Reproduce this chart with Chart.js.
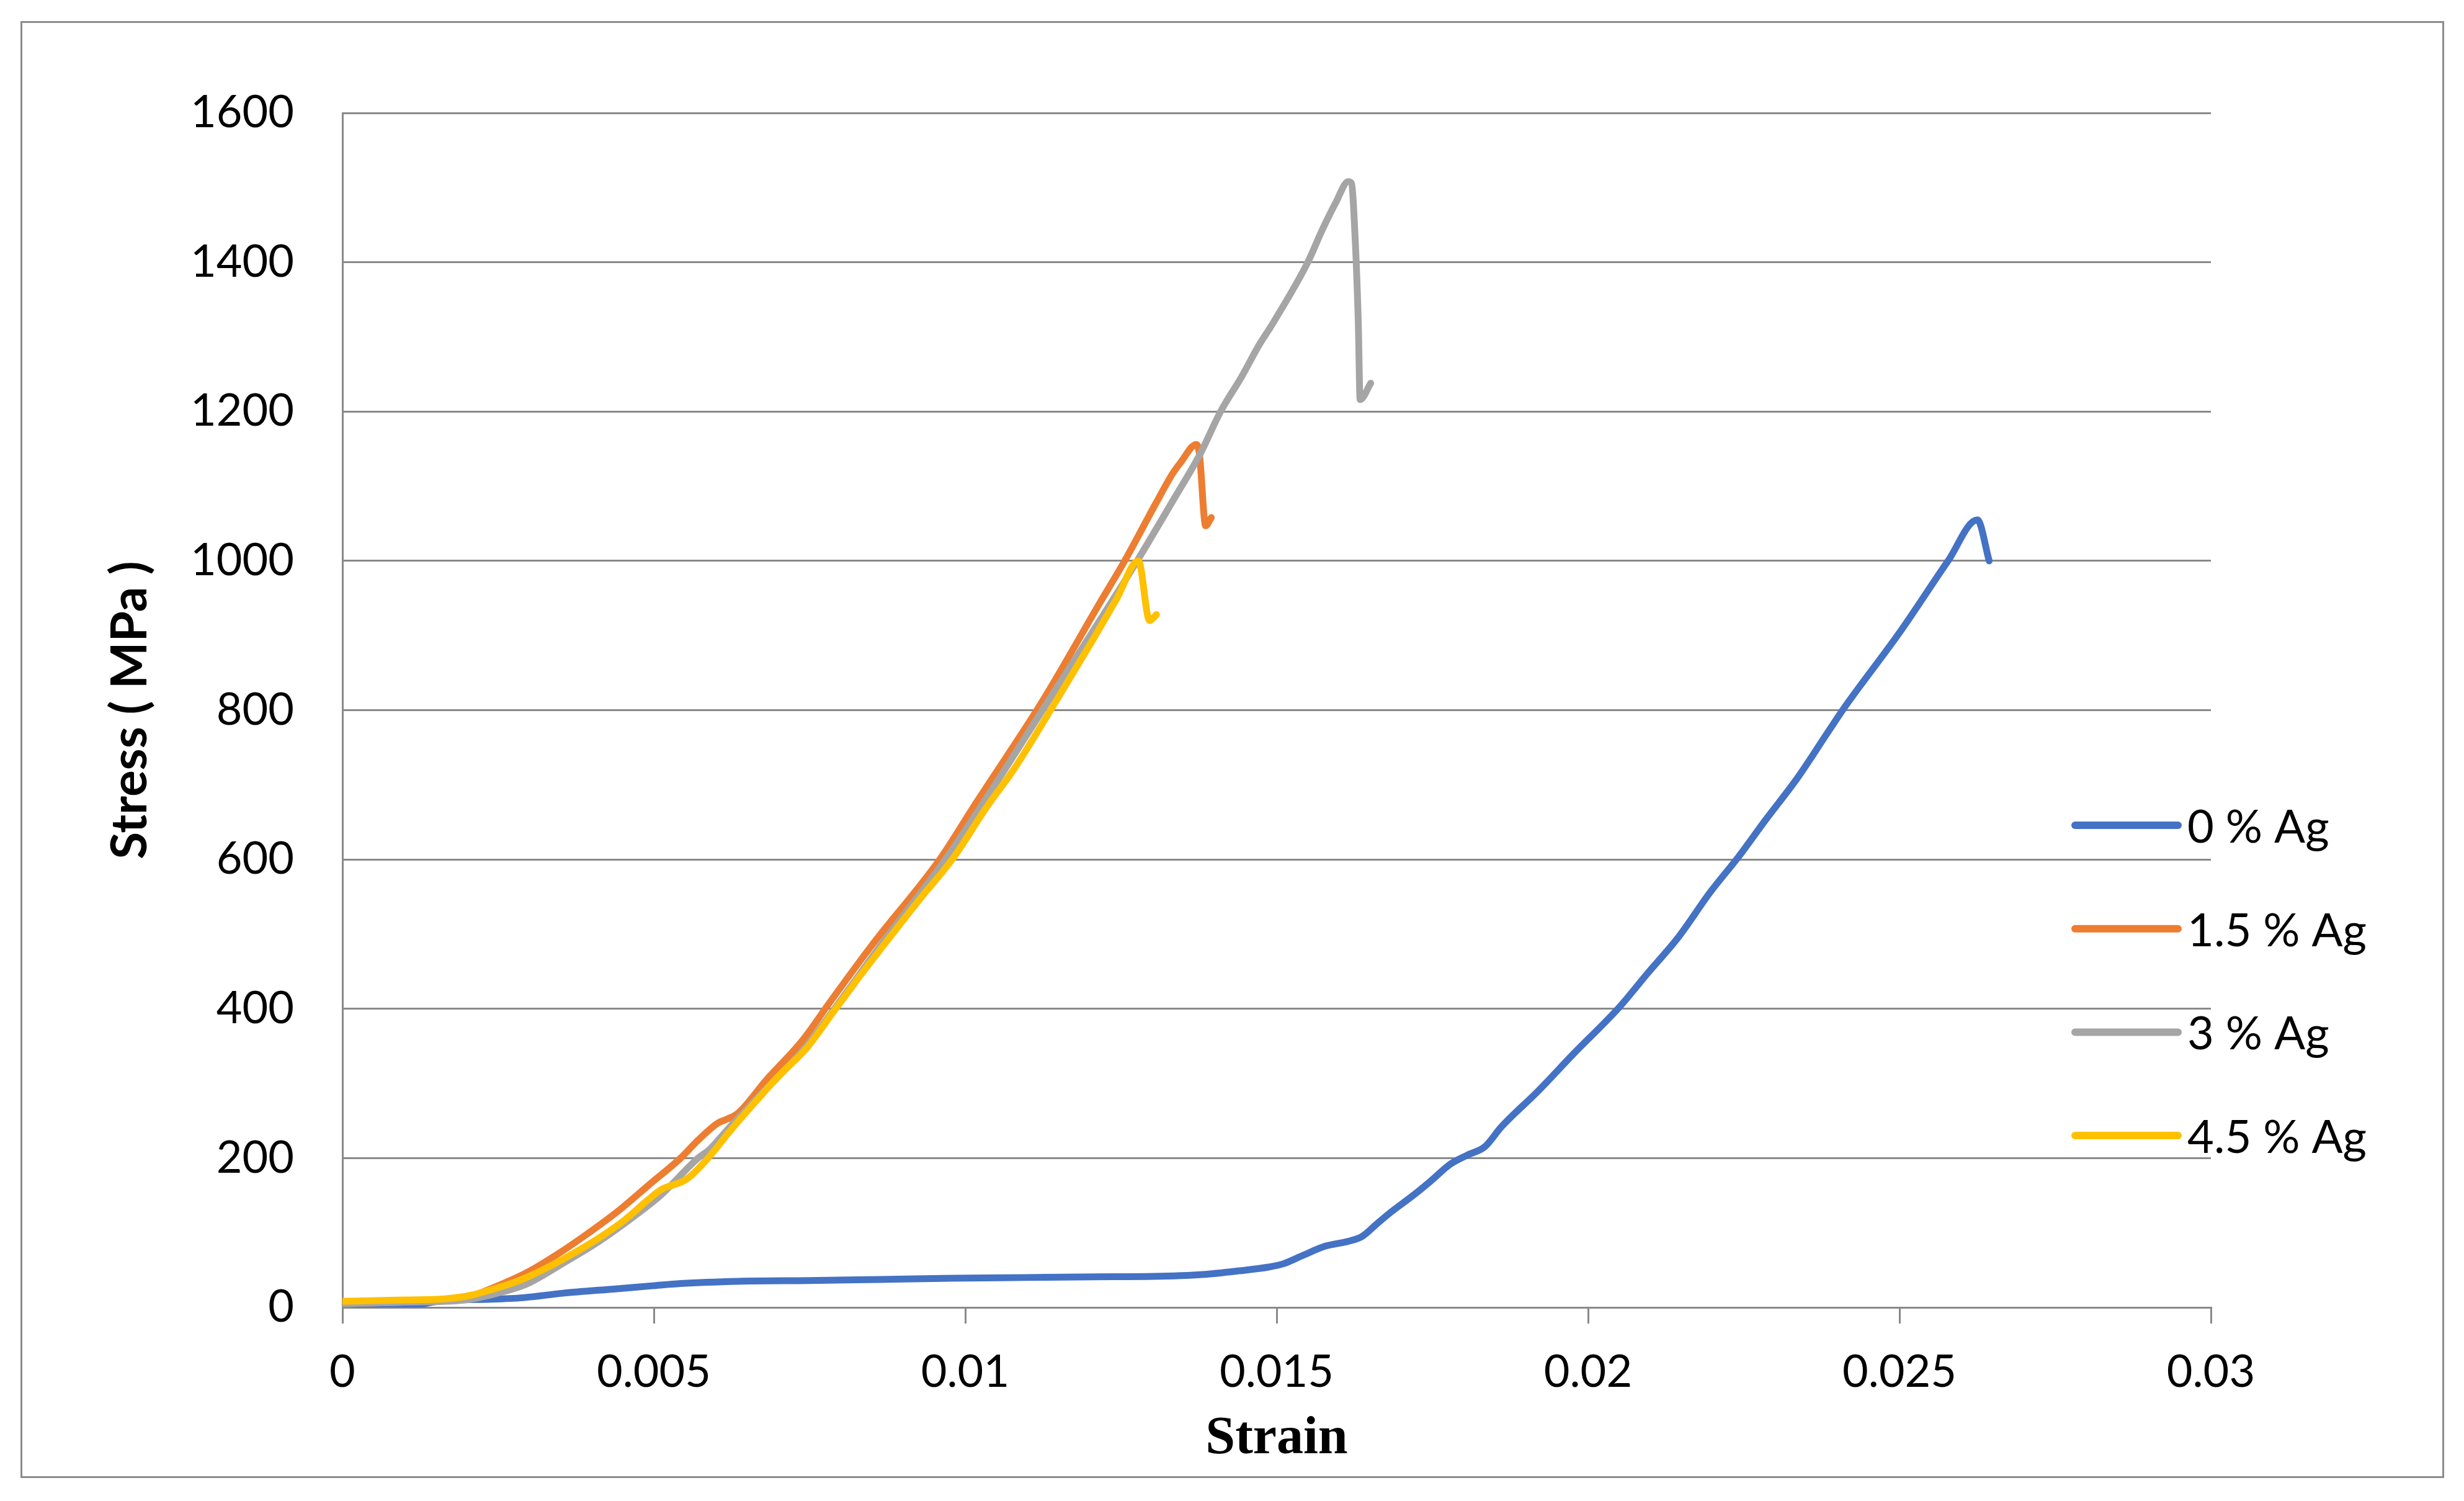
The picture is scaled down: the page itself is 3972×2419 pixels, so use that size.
<!DOCTYPE html>
<html>
<head>
<meta charset="utf-8">
<title>Stress - Strain</title>
<script src="https://cdn.jsdelivr.net/npm/chart.js@4.4.1/dist/chart.umd.min.js"></script>
<style>
    html, body { margin: 0; padding: 0; background: #ffffff; }
    #wrap { width: 3972px; height: 2419px; }
</style>
</head>
<body>
<div id="wrap"><canvas id="myChart" width="3972" height="2419"></canvas></div>
<script>
// series names
const seriesNames = ['0 % Ag', '1.5 % Ag', '3 % Ag', '4.5 % Ag'];

// 0 % Ag
const strain0 = [0, 0.00097, 0.0012, 0.0016, 0.0024, 0.0029, 0.00354, 0.00441, 0.00498, 0.00543, 0.00635, 0.00749, 0.00864, 0.00978, 0.01093, 0.01207, 0.01302, 0.01381, 0.0144, 0.01487, 0.01511, 0.01543, 0.01578, 0.01617, 0.01637, 0.01661, 0.01684, 0.01716, 0.01747, 0.01779, 0.01806, 0.01834, 0.01861, 0.0192, 0.01977, 0.0205, 0.02095, 0.02146, 0.02196, 0.02241, 0.02285, 0.02336, 0.02387, 0.02412, 0.02501, 0.02578, 0.02625, 0.02644];
const stress0 = [0, 0, 3, 9, 11, 13, 19, 25, 29, 32, 35, 36, 37.5, 39, 40, 41, 41.5, 44, 49, 54, 58.5, 70, 82, 89, 95, 112, 128, 148, 169, 192, 204, 215, 242, 290, 340, 402, 447, 497, 556, 603, 653, 709, 773, 804, 905, 1000, 1055, 1000];

// 1.5 % Ag
const strain15 = [0, 0.001, 0.0017, 0.0021, 0.00244, 0.00299, 0.00354, 0.00394, 0.00441, 0.00492, 0.00543, 0.00571, 0.00603, 0.00617, 0.00635, 0.00681, 0.00738, 0.00782, 0.0085, 0.00959, 0.01013, 0.01115, 0.01137, 0.01217, 0.01256, 0.01306, 0.01333, 0.01346, 0.01371, 0.01376, 0.01386, 0.01395];
const stress15 = [5, 7, 10, 16, 27, 48, 76, 99, 128, 164, 200, 224, 247, 252, 260, 305, 357, 408, 485, 600, 670, 800, 830, 945, 1000, 1077, 1117, 1132, 1156, 1143, 1047, 1058];

// 3 % Ag
const strain3 = [0, 0.001, 0.00197, 0.00244, 0.00295, 0.00354, 0.00413, 0.00473, 0.00512, 0.00571, 0.0059, 0.00617, 0.0067, 0.0074, 0.0079, 0.00866, 0.00968, 0.0104, 0.01124, 0.01276, 0.01333, 0.01377, 0.0141, 0.01444, 0.01471, 0.01493, 0.0155, 0.01573, 0.01595, 0.01615, 0.0162, 0.01626, 0.01631, 0.01634, 0.01651];
const stress3 = [5, 7, 10, 18, 31, 59, 89, 125, 151, 200, 212, 237, 284, 345, 400, 487, 600, 690, 800, 1000, 1080, 1143, 1200, 1247, 1288, 1317, 1400, 1443, 1480, 1508, 1506, 1432, 1321, 1216, 1238];

// 4.5 % Ag
const strain45 = [0, 0.001, 0.00165, 0.00205, 0.00244, 0.00284, 0.00335, 0.00374, 0.0041, 0.00453, 0.00492, 0.00512, 0.00547, 0.00559, 0.00587, 0.00624, 0.0067, 0.00704, 0.00745, 0.0079, 0.00808, 0.0083, 0.00866, 0.00928, 0.00979, 0.01035, 0.01079, 0.01137, 0.01204, 0.01243, 0.01278, 0.01296, 0.01307];
const stress45 = [8, 10, 11.5, 16, 25, 36, 56, 74, 92, 117, 145, 158, 169, 176, 200, 238, 282, 313, 347, 398, 418, 443, 482, 548, 600, 671, 722, 800, 893, 949, 1000, 920, 928];

// axis ticks
const xTickValues = [0, 0.005, 0.01, 0.015, 0.02, 0.025, 0.03];
const xTickLabels = ['0', '0.005', '0.01', '0.015', '0.02', '0.025', '0.03'];
const yTickValues = [0, 200, 400, 600, 800, 1000, 1200, 1400, 1600];
const yTickLabels = ['0', '200', '400', '600', '800', '1000', '1200', '1400', '1600'];

const seriesColors = ['#4472C4', '#ED7D31', '#A5A5A5', '#FFC000'];
const axisGray = '#898989';

function toPoints(xs, ys) {
    return xs.map((x, i) => ({ x: x, y: ys[i] }));
}

// white page and outer frame
const framePlugin = {
    id: 'frame',
    beforeDraw(chart) {
        let ctx = chart.ctx;
        ctx.save();
        ctx.fillStyle = '#ffffff';
        ctx.fillRect(0, 0, chart.width, chart.height);
        ctx.strokeStyle = '#8c8c8c';
        ctx.lineWidth = 3;
        ctx.strokeRect(34.5, 35.5, 3904, 2345);
        ctx.restore();
    }
};

// legend on the right, partly over the plot area like the Excel one
const sideLegend = {
    id: 'sideLegend',
    afterDraw(chart) {
        let ctx = chart.ctx;
        let area = chart.chartArea;
        ctx.save();
        ctx.font = '74px Lato';
        ctx.textBaseline = 'middle';
        ctx.textAlign = 'left';
        chart.data.datasets.forEach((ds, i) => {
            let y = area.top + 1148 + i * 166.7;
            ctx.strokeStyle = ds.borderColor;
            ctx.lineWidth = 12;
            ctx.lineCap = 'round';
            ctx.beginPath();
            ctx.moveTo(area.right - 219, y);
            ctx.lineTo(area.right - 53, y);
            ctx.stroke();
            ctx.fillStyle = '#000000';
            ctx.fillText(ds.label, area.right - 38, y + 4);
        });
        ctx.restore();
    }
};

let datasets = [
    toPoints(strain0, stress0),
    toPoints(strain15, stress15),
    toPoints(strain3, stress3),
    toPoints(strain45, stress45)
].map((pts, i) => ({
    label: seriesNames[i],
    data: pts,
    borderColor: seriesColors[i],
    backgroundColor: seriesColors[i],
    borderWidth: 11,
    borderCapStyle: 'round',
    borderJoinStyle: 'round',
    pointRadius: 0,
    cubicInterpolationMode: 'monotone',
    fill: false,
    order: 4 - i
}));

new Chart(document.getElementById('myChart'), {
    type: 'line',
    data: { datasets: datasets },
    options: {
        responsive: false,
        animation: false,
        devicePixelRatio: 1,
        layout: { padding: { left: 0, top: 182, right: 408, bottom: 0 } },
        plugins: {
            legend: { display: false },
            tooltip: { enabled: false }
        },
        scales: {
            x: {
                type: 'linear',
                min: 0,
                max: 0.03,
                afterBuildTicks: scale => { scale.ticks = xTickValues.map(v => ({ value: v })); },
                afterFit: scale => { scale.height = 312; },
                grid: {
                    drawOnChartArea: false,
                    drawTicks: true,
                    tickLength: 26,
                    color: axisGray,
                    lineWidth: 3
                },
                border: { display: true, color: axisGray, width: 3 },
                ticks: {
                    autoSkip: false,
                    maxRotation: 0,
                    padding: 36,
                    color: '#000000',
                    font: { family: 'Lato', size: 72 },
                    callback: (value, index) => xTickLabels[index]
                },
                title: {
                    display: true,
                    text: 'Strain',
                    color: '#000000',
                    font: { family: 'Liberation Serif', size: 86, weight: 'bold' },
                    padding: { top: 0, bottom: 48 }
                }
            },
            y: {
                type: 'linear',
                min: 0,
                max: 1600,
                afterBuildTicks: scale => { scale.ticks = yTickValues.map(v => ({ value: v })); },
                afterFit: scale => { scale.width = 552; },
                grid: {
                    drawTicks: false,
                    color: axisGray,
                    lineWidth: 3
                },
                border: { display: true, color: axisGray, width: 3 },
                ticks: {
                    padding: 78,
                    color: '#000000',
                    font: { family: 'Lato', size: 72 },
                    callback: (value, index) => yTickLabels[index]
                },
                title: {
                    display: true,
                    text: 'Stress ( MPa )',
                    color: '#000000',
                    font: { family: 'Lato', size: 80, weight: 'bold' },
                    padding: { top: 162, bottom: 0 }
                }
            }
        }
    },
    plugins: [framePlugin, sideLegend]
});
</script>
</body>
</html>
